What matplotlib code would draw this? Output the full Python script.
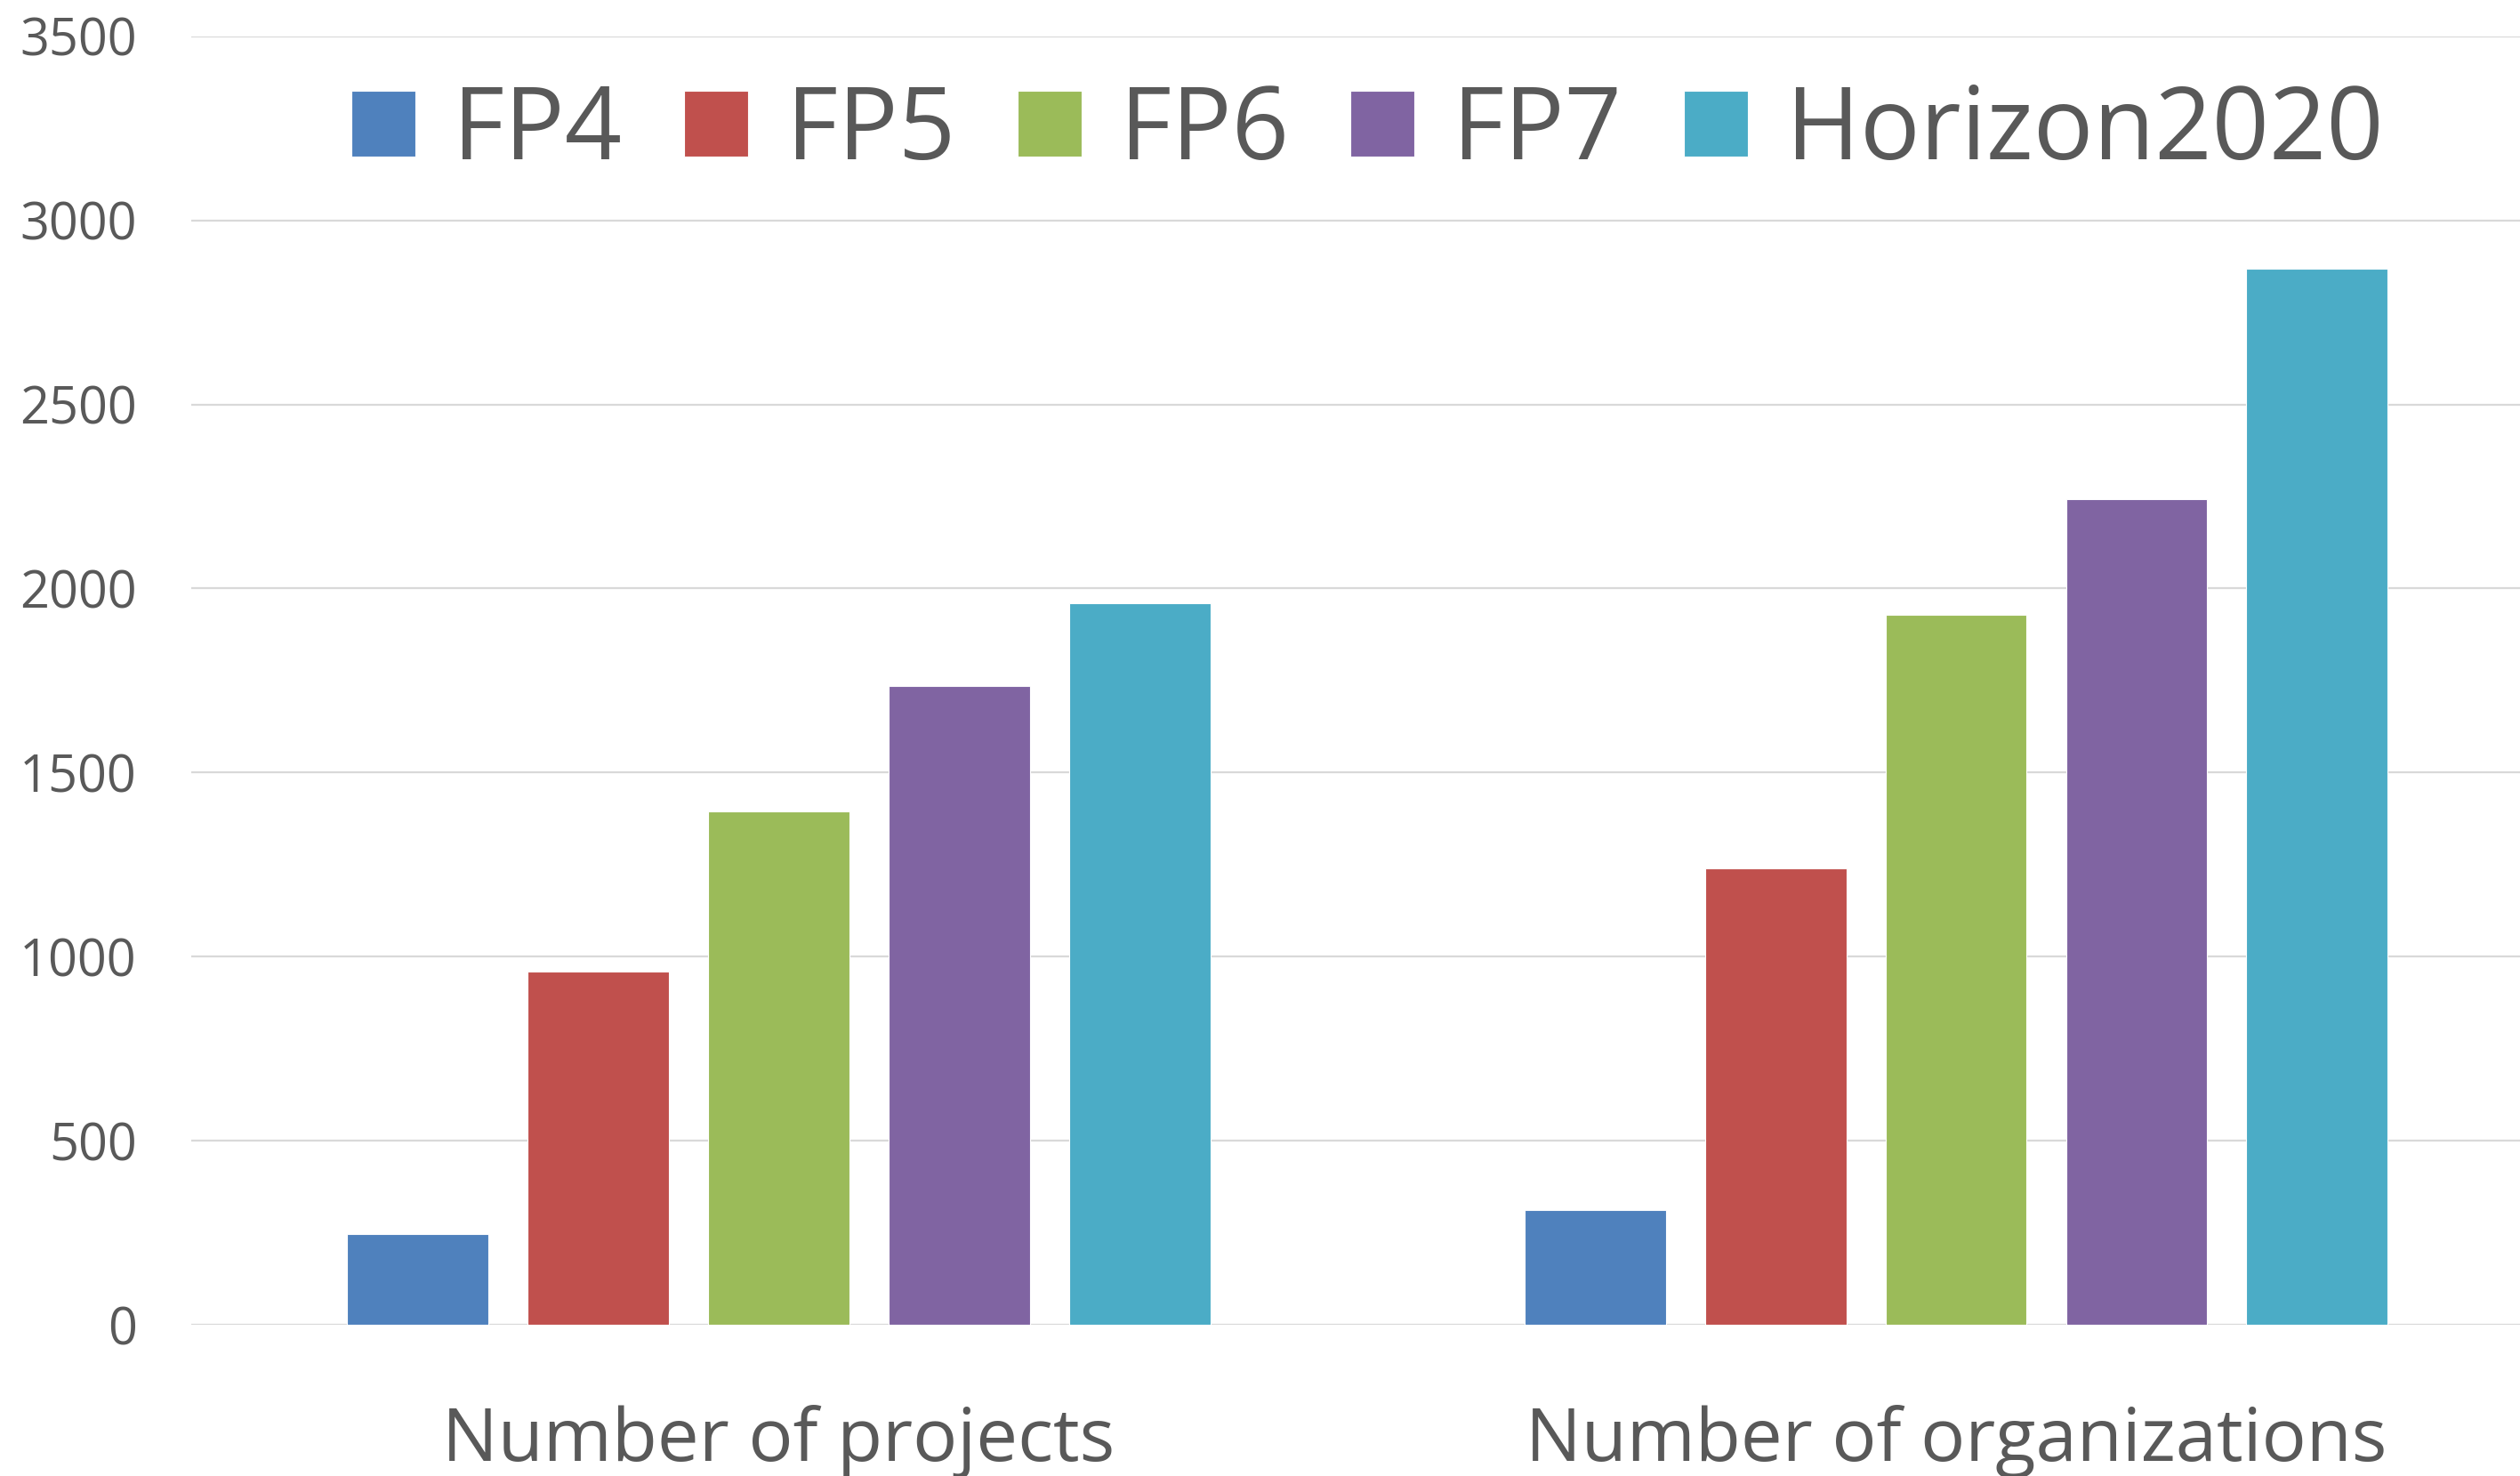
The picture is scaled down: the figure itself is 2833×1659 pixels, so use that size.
import numpy as np
import matplotlib.pyplot as plt

# Data
categories = ["Number of projects", "Number of organizations"]
programmes = ["FP4", "FP5", "FP6", "FP7", "Horizon2020"]
fp4 = [247, 312]
fp5 = [960, 1239]
fp6 = [1394, 1928]
fp7 = [1734, 2242]
h2020 = [1961, 2868]
yticks = [0, 500, 1000, 1500, 2000, 2500, 3000, 3500]

colors = ["#4F81BD", "#C0504D", "#9BBB59", "#8064A2", "#4BACC6"]
text_color = "#595959"
grid_color = "#D9D9D9"

plt.rcParams['font.family'] = ['Open Sans', 'DejaVu Sans']

fig = plt.figure(figsize=(28.33, 16.59), dpi=100)
ax = fig.add_axes([215 / 2833, 170 / 1659, 1 - 215 / 2833, 1448.3 / 1659])

series = [fp4, fp5, fp6, fp7, h2020]
x = np.arange(len(categories))
pitch = 0.1533
width = 0.120
for i, (vals, name, col) in enumerate(zip(series, programmes, colors)):
    offs = (i - 2) * pitch
    ax.bar(x + offs, vals, width=width, color=col, label=name, zorder=3,
           edgecolor='white', linewidth=0.8)

ax.set_xlim(-0.499, 1.479)
ax.set_ylim(0, 3500)
ax.set_yticks(yticks)
ax.set_yticklabels([str(v) for v in yticks])
ax.set_xticks(x)
ax.set_xticklabels(categories)

ax.yaxis.grid(True, color=grid_color, linewidth=1.6, zorder=0)
ax.set_axisbelow(True)
for s in ax.spines.values():
    s.set_visible(False)

ax.tick_params(axis='y', length=0, pad=44, labelsize=41.5, labelcolor=text_color)
ax.tick_params(axis='x', length=0, pad=65, labelsize=60, labelcolor=text_color)

# legend sits above the bars, centred on the plot area
leg = ax.legend(ncol=5, loc='center', bbox_to_anchor=(1537 / 2833, 1 - 149 / 1659),
                bbox_transform=fig.transFigure, frameon=False, fontsize=81,
                handlelength=0.64, handleheight=0.64, handletextpad=0.38,
                columnspacing=0.62, borderpad=0, borderaxespad=0)
for t in leg.get_texts():
    t.set_color(text_color)

fig.savefig("out.png", dpi=100)
